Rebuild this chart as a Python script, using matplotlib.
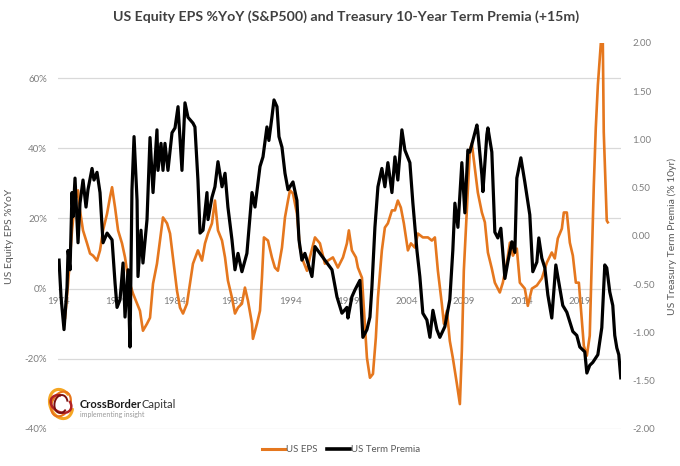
import matplotlib
matplotlib.use("Agg")
import matplotlib.pyplot as plt
from matplotlib.patches import Arc
from matplotlib.lines import Line2D
from matplotlib.ticker import FuncFormatter

# ---- data ----
eps_years = [1974.52, 1974.78, 1975.12, 1975.38, 1975.64, 1975.81, 1976.07, 1976.42, 1976.68, 1976.94,
             1977.28, 1977.54, 1977.80, 1978.15, 1978.40, 1978.58, 1978.84, 1979.10, 1979.44, 1979.70,
             1979.96, 1980.39, 1980.74, 1980.99, 1981.25, 1981.60, 1981.86, 1982.12, 1982.46, 1982.72,
             1982.98, 1983.33, 1983.59, 1983.84, 1984.19, 1984.45, 1984.71, 1985.05, 1985.31, 1985.57,
             1986.00, 1986.35, 1986.61, 1986.87, 1987.21, 1987.47, 1987.73, 1988.08, 1988.34, 1988.59,
             1988.94, 1989.20, 1989.46, 1989.80, 1990.06, 1990.32, 1990.67, 1990.75, 1991.10, 1991.36,
             1991.53, 1991.70, 1992.05, 1992.39, 1992.65, 1992.91, 1993.26, 1993.52, 1993.78, 1993.95,
             1994.21, 1994.55, 1994.81, 1995.07, 1995.42, 1995.67, 1996.11, 1996.54, 1996.97, 1997.23,
             1997.66, 1998.09, 1998.53, 1998.87, 1999.04, 1999.30, 1999.65, 1999.82, 2000.17, 2000.42,
             2000.60, 2000.86, 2001.12, 2001.37, 2001.55, 2001.89, 2002.15, 2002.41, 2002.76, 2003.02,
             2003.27, 2003.53, 2003.79, 2004.14, 2004.40, 2004.74, 2005.00, 2005.43, 2005.87, 2006.21,
             2006.47, 2006.73, 2007.07, 2007.25, 2007.51, 2007.76, 2008.02, 2008.37, 2008.63, 2008.80,
             2008.97, 2009.23, 2009.49, 2009.66, 2009.92, 2010.18, 2010.53, 2010.79, 2011.05, 2011.39,
             2011.65, 2012.08, 2012.34, 2012.69, 2012.95, 2013.21, 2013.55, 2013.81, 2014.24, 2014.50,
             2014.85, 2015.28, 2015.71, 2016.14, 2016.57, 2016.83, 2017.09, 2017.44, 2017.61, 2017.87,
             2018.13, 2018.39, 2018.65, 2018.91, 2019.16, 2019.34, 2019.60, 2019.85, 2020.03, 2020.20,
             2020.37, 2020.55, 2020.81, 2020.98, 2021.06, 2021.32, 2021.41]
eps_yoy = [-8.3, 1.4, 16.6, 25.1, 28.0, 22.3, 16.6, 12.9, 10.0, 9.4,
           8.0, 10.9, 16.6, 21.4, 26.0, 28.9, 23.1, 16.6, 12.9, 8.9,
           3.1, -1.4, -4.3, -6.3, -12.0, -10.0, -8.3, 1.4, 7.1, 13.7,
           20.3, 18.6, 15.7, 8.9, -0.6, -5.4, -7.1, -4.3, 1.4, 7.1,
           10.9, 8.0, 12.9, 15.7, 18.6, 25.1, 16.6, 13.7, 8.9, 2.3,
           -2.6, -7.1, -5.4, -4.3, 0.3, -3.4, -10.0, -14.3, -10.0, -6.3,
           3.1, 14.6, 13.7, 8.9, 6.0, 5.1, 11.7, 20.3, 25.1, 28.0,
           27.1, 21.4, 11.7, 8.0, 5.1, 8.9, 14.6, 12.9, 7.1, 8.0,
           8.9, 6.0, 8.9, 12.9, 16.6, 10.9, 8.9, 6.0, 3.1, -10.0,
           -19.7, -25.4, -24.3, -14.0, -2.6, 10.9, 17.4, 18.6, 22.3, 22.3,
           25.1, 23.1, 18.6, 10.9, 12.9, 11.7, 15.7, 14.6, 14.6, 13.7,
           14.6, 5.1, -4.3, -10.0, -6.3, -14.9, -19.7, -27.1, -32.9, -17.7,
           5.1, 22.3, 39.4, 41.4, 34.3, 27.4, 21.7, 18.9, 10.3, 5.7,
           1.7, -1.1, 1.7, 7.4, 13.1, 9.4, 11.4, 1.7, 0.0, -4.9,
           0.0, 0.9, 2.9, 7.4, 10.3, 8.6, 14.3, 17.1, 21.7, 21.7,
           13.1, 9.4, 1.7, 1.7, -8.6, -16.3, -19.1, -13.4, 8.6, 29.4,
           45.7, 58.0, 70.0, 70.0, 44.6, 19.4, 18.9]

tp_years = [1974.00, 1974.17, 1974.43, 1974.69, 1974.78, 1974.95, 1975.12, 1975.21, 1975.38, 1975.64,
            1975.81, 1976.07, 1976.33, 1976.50, 1976.85, 1977.02, 1977.28, 1977.54, 1977.80, 1978.15,
            1978.58, 1978.84, 1979.01, 1979.27, 1979.53, 1979.70, 1979.96, 1980.13, 1980.30, 1980.48,
            1980.74, 1980.82, 1981.08, 1981.25, 1981.60, 1981.86, 1982.12, 1982.46, 1982.55, 1982.81,
            1982.98, 1983.15, 1983.41, 1983.76, 1984.02, 1984.28, 1984.62, 1984.88, 1985.14, 1985.57,
            1985.74, 1986.00, 1986.18, 1986.44, 1986.78, 1986.87, 1987.21, 1987.47, 1987.73, 1988.08,
            1988.34, 1988.59, 1988.94, 1989.20, 1989.46, 1989.80, 1990.23, 1990.67, 1990.93, 1991.36,
            1991.62, 1991.96, 1992.13, 1992.39, 1992.57, 1992.83, 1993.00, 1993.26, 1993.52, 1993.78,
            1994.21, 1994.55, 1994.73, 1994.98, 1995.24, 1995.50, 1995.85, 1996.11, 1996.54, 1996.97,
            1997.58, 1998.01, 1998.44, 1998.87, 1998.96, 1999.30, 1999.56, 1999.99, 2000.25, 2000.60,
            2000.86, 2001.03, 2001.29, 2001.55, 2001.89, 2002.15, 2002.41, 2002.76, 2003.02, 2003.27,
            2003.62, 2003.88, 2004.31, 2004.57, 2004.92, 2005.17, 2005.43, 2005.78, 2006.04, 2006.30,
            2006.64, 2006.90, 2007.33, 2007.76, 2008.02, 2008.20, 2008.46, 2008.80, 2009.06, 2009.32,
            2009.49, 2010.10, 2010.18, 2010.53, 2010.62, 2010.96, 2011.05, 2011.39, 2011.65, 2011.91,
            2012.17, 2012.52, 2012.77, 2013.12, 2013.38, 2013.55, 2013.90, 2014.24, 2014.67, 2014.93,
            2015.28, 2015.45, 2015.71, 2015.97, 2016.23, 2016.57, 2016.92, 2017.26, 2017.52, 2017.87,
            2018.13, 2018.39, 2018.73, 2018.99, 2019.42, 2019.60, 2019.85, 2020.11, 2020.55, 2020.89,
            2021.15, 2021.32, 2021.58, 2021.84, 2022.01, 2022.19, 2022.36, 2022.53]
term_premia = [-0.25, -0.63, -0.97, -0.53, -0.15, -0.35, 0.45, 0.20, 0.60, -0.07,
               0.34, 0.58, 0.30, 0.48, 0.70, 0.58, 0.66, 0.45, -0.07, 0.03,
               -0.04, -0.49, -0.74, -0.66, -0.28, -0.84, -0.35, -1.15, 0.48, 1.03,
               0.37, -0.42, 0.06, -0.28, 0.17, 1.02, 0.45, 1.10, 0.68, 0.96,
               0.68, 0.96, 0.68, 1.07, 1.12, 1.34, 0.68, 1.38, 1.23, 1.17,
               1.13, 0.58, 0.03, 0.06, 0.45, 0.17, 0.40, 0.51, 0.77, 0.51,
               0.65, 0.30, -0.04, -0.35, -0.18, -0.37, -0.18, 0.45, 0.30, 0.72,
               0.82, 1.13, 0.99, 1.23, 1.41, 1.34, 1.03, 0.92, 0.65, 0.48,
               0.56, 0.37, -0.04, -0.25, -0.18, -0.28, -0.42, -0.11, -0.18, -0.25,
               -0.35, -0.63, -0.80, -0.74, -0.85, -0.63, -0.56, -0.46, -1.05, -0.97,
               -0.84, -0.53, 0.09, 0.51, 0.70, 0.51, 0.76, 0.45, 0.82, 0.58,
               1.10, 0.89, 0.76, 0.34, -0.15, -0.42, -0.80, -0.87, -1.05, -0.77,
               -0.97, -1.05, -0.94, -0.66, -0.15, 0.34, 0.09, 0.76, 0.24, 0.89,
               0.87, 1.15, 1.08, 0.63, 0.46, 1.05, 1.12, 0.87, 0.04, -0.02,
               0.08, -0.44, -0.27, -0.06, -0.17, 0.60, 0.81, 0.56, 0.22, -0.37,
               -0.27, -0.02, -0.23, -0.33, -0.61, -0.85, -0.30, -0.54, -0.72, -0.79,
               -0.89, -0.99, -1.03, -1.15, -1.20, -1.42, -1.34, -1.31, -1.23, -0.95,
               -0.30, -0.33, -0.58, -0.72, -1.03, -1.16, -1.23, -1.47]

year_ticks = [1974, 1979, 1984, 1989, 1994, 1999, 2004, 2009, 2014, 2019]
left_ticks = [-40, -20, 0, 20, 40, 60]
right_ticks = [-2.0, -1.5, -1.0, -0.5, 0.0, 0.5, 1.0, 1.5, 2.0]

title = "US Equity EPS %YoY (S&P500) and Treasury 10-Year Term Premia (+15m)"
ORANGE = "#E5771E"
GREY = "#7F7F7F"
FONT = ["Lato", "DejaVu Sans"]

plt.rcParams["font.family"] = FONT

fig = plt.figure(figsize=(6.8, 4.66), dpi=100)
ax = fig.add_axes([58 / 680, 1 - 429 / 466, 563 / 680, 386 / 466])
ax2 = ax.twinx()

ax.plot(eps_years, eps_yoy, color=ORANGE, lw=1.9, solid_joinstyle="round")
ax2.plot(tp_years, term_premia, color="black", lw=2.3, solid_joinstyle="round")

ax.set_xlim(1973.91, 2022.55)
ax.set_ylim(-40, 70)
ax2.set_ylim(-2.0, 2.0)

ax.set_yticks(left_ticks)
ax.yaxis.set_major_formatter(FuncFormatter(lambda v, p: f"{v:.0f}%"))
ax2.set_yticks(right_ticks)
ax2.yaxis.set_major_formatter(FuncFormatter(lambda v, p: f"{v:.2f}"))
ax.set_xticks(year_ticks)
ax.set_xticklabels([str(y) for y in year_ticks])

ax.grid(axis="y", color="#D9D9D9", lw=0.9)
ax.set_axisbelow(True)
for a in (ax, ax2):
    for s in a.spines.values():
        s.set_visible(False)
ax.spines["bottom"].set_position(("data", 0))

ax.tick_params(axis="y", length=0, labelsize=7, labelcolor=GREY, pad=8)
ax2.tick_params(axis="y", length=0, labelsize=7, labelcolor=GREY, pad=8)
ax.tick_params(axis="x", length=0, labelsize=7, labelcolor=GREY, pad=6)

ax.set_ylabel("US Equity EPS %YoY", fontsize=7.5, color="#595959")
ax.yaxis.set_label_coords((14 - 58) / 563, 0.5)
ax2.set_ylabel("US Treasury Term Premia (% 10yr)", fontsize=7.5, color="#595959", rotation=90)
ax2.yaxis.set_label_coords((667 - 58) / 563, 0.5)

fig.text(346 / 680, 1 - 17 / 466, title, ha="center", va="center", fontsize=10.2,
         fontweight="bold", color="#404040")

# legend
handles = [Line2D([], [], color=ORANGE, lw=2.2), Line2D([], [], color="black", lw=2.6)]
fig.legend(handles, ["US EPS", "US Term Premia"], loc="center", bbox_to_anchor=(341 / 680, 1 - 450 / 466),
           ncol=2, frameon=False, fontsize=7, labelcolor="#595959", handlelength=2.4,
           handletextpad=0.1, columnspacing=0.9)

# logo
fig.canvas.draw()
t1 = fig.text(80 / 680, 1 - 405 / 466, "CrossBorder", fontsize=8, fontweight="bold",
              color="#1a1a1a", va="center", ha="left")
r = fig.canvas.get_renderer()
bb = t1.get_window_extent(renderer=r)
fig.text((bb.x1 - 1) / fig.bbox.width, 1 - 405 / 466, "Capital", fontsize=8, color="#333333",
         va="center", ha="left")
fig.text(80 / 680, 1 - 414 / 466, "implementing insight", fontsize=5, color="#999999",
         va="center", ha="left")
cx, cy = 0.61, (466 - 404) / 100
for w, h, ang, col, lw in [(0.22, 0.30, 20, "#F5A623", 2.2), (0.18, 0.26, -25, "#E8761B", 1.6),
                           (0.16, 0.22, 60, "#B22222", 1.8), (0.13, 0.18, -10, "#7A1010", 1.4)]:
    fig.add_artist(Arc((cx, cy), w, h, angle=ang, theta1=30, theta2=320, color=col, lw=lw,
                       transform=fig.dpi_scale_trans))

fig.savefig("out.png", dpi=100)
